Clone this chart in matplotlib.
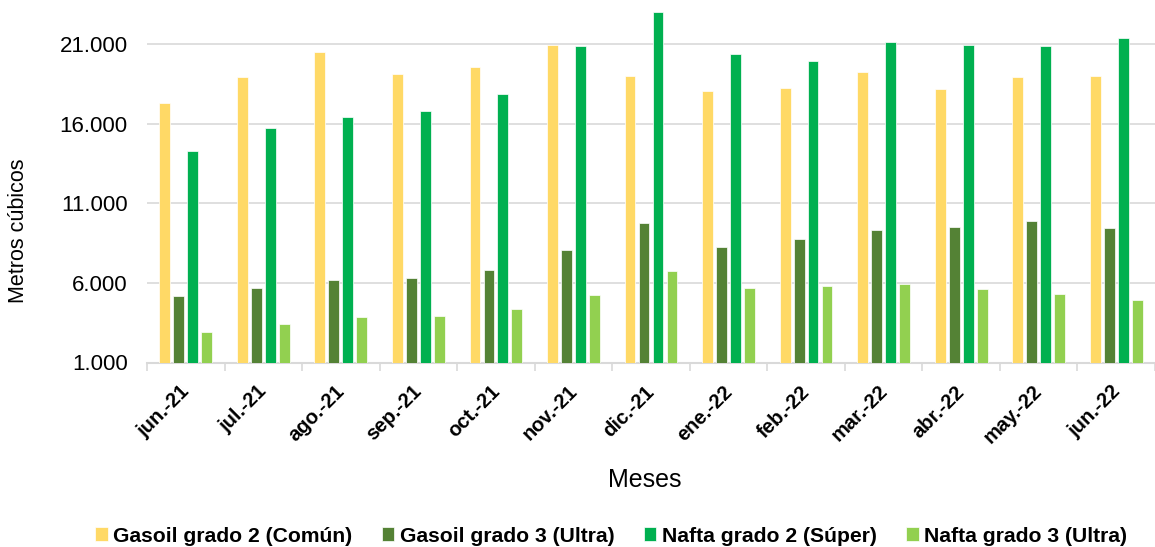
import matplotlib
matplotlib.use("Agg")
import matplotlib.pyplot as plt
import matplotlib.transforms as mtransforms
import numpy as np

plt.rcParams['font.family'] = ['Liberation Sans', 'DejaVu Sans']

months = ["jun.-21", "jul.-21", "ago.-21", "sep.-21", "oct.-21", "nov.-21", "dic.-21",
          "ene.-22", "feb.-22", "mar.-22", "abr.-22", "may.-22", "jun.-22"]
gasoil2 = [17300, 18930, 20500, 19100, 19580, 20960, 18970, 18070, 18220, 19260, 18180, 18950, 19010]
gasoil3 = [5160, 5700, 6180, 6290, 6810, 8070, 9740, 8250, 8760, 9320, 9510, 9890, 9430]
nafta2 = [14280, 15730, 16440, 16770, 17840, 20880, 23010, 20390, 19910, 21130, 20960, 20880, 21400]
nafta3 = [2900, 3420, 3860, 3900, 4340, 5240, 6750, 5680, 5800, 5930, 5640, 5320, 4930]

series_names = ["Gasoil grado 2 (Común)", "Gasoil grado 3 (Ultra)",
                "Nafta grado 2 (Súper)", "Nafta grado 3 (Ultra)"]
colors = ["#FFD966", "#548235", "#00B050", "#92D050"]
yticks = [1000, 6000, 11000, 16000, 21000]
ytick_labels = ["1.000", "6.000", "11.000", "16.000", "21.000"]

W, H = 1155, 547
fig = plt.figure(figsize=(W / 100, H / 100), dpi=100)
ax = fig.add_axes([147 / W, (H - 362.5) / H, (1155 - 147) / W, 362.5 / H])

x = np.arange(len(months))
width = 0.14
step = 0.18
for i, (vals, c, name) in enumerate(zip([gasoil2, gasoil3, nafta2, nafta3], colors, series_names)):
    ax.bar(x + (i - 1.5) * step, np.array(vals) - 1000, bottom=1000, width=width,
           color=c, label=name, edgecolor="white", linewidth=0.5, zorder=3)

ax.set_xlim(-0.5, len(months) - 0.5)
ax.set_ylim(1000, 23760)
ax.set_yticks(yticks)
ax.set_yticklabels(ytick_labels, fontsize=16, color="#000000")
ax.tick_params(axis="y", length=0, pad=14)
ax.yaxis.grid(True, color="#D9D9D9", linewidth=1.2, zorder=0)
ax.set_axisbelow(True)

ax.set_xticks(x)
ax.set_xticklabels(months, rotation=45, ha="right", rotation_mode="anchor",
                   fontsize=14.5, fontweight="bold")
ax.tick_params(axis="x", length=0, pad=14)
offset = mtransforms.ScaledTranslation(-6 / 100, 0, fig.dpi_scale_trans)
for lbl in ax.get_xticklabels():
    lbl.set_transform(lbl.get_transform() + offset)
ax.set_xticks(np.arange(len(months) + 1) - 0.5, minor=True)
ax.tick_params(axis="x", which="minor", length=6, color="#D9D9D9", width=1.2)

for s in ["top", "right", "left"]:
    ax.spines[s].set_visible(False)
ax.spines["bottom"].set_color("#D9D9D9")
ax.spines["bottom"].set_linewidth(1.5)

fig.text(645 / W, 1 - 480 / H, "Meses", fontsize=18, ha="center", va="center")
fig.text(19 / W, 1 - 231 / H, "Metros cúbicos", fontsize=15.5, rotation=90, ha="center", va="center")

leg = fig.legend(loc="center", bbox_to_anchor=(611 / W, 1 - 536 / H), ncol=4, frameon=False,
                 prop={"weight": "bold", "size": 15.2}, handlelength=0.6, handleheight=0.6,
                 handletextpad=0.25, columnspacing=1.4)

fig.savefig("out.png", dpi=100)
